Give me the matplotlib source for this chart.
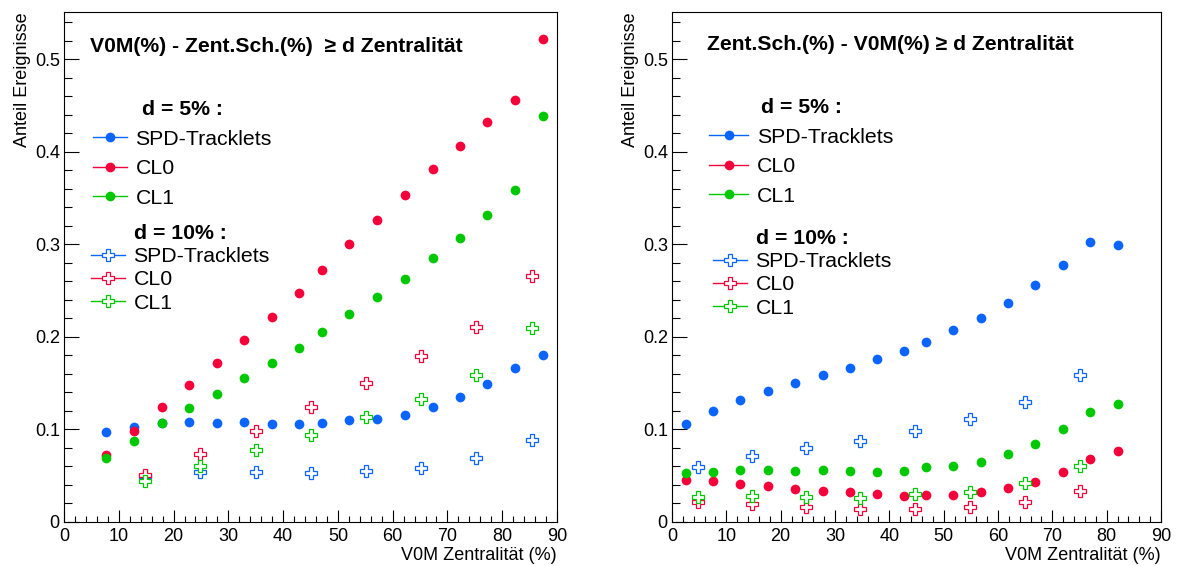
import matplotlib
matplotlib.use("Agg")
import matplotlib.pyplot as plt
from matplotlib.lines import Line2D
from matplotlib.ticker import MultipleLocator

plt.rcParams['font.family'] = ['Liberation Sans', 'DejaVu Sans']

blue = '#0a64ff'
red = '#f5003a'
green = '#00c800'

# left panel: V0M(%) - Zent.Sch.(%) >= d
x_left_5 = [7.7, 12.8, 17.8, 22.9, 27.9, 32.9, 38.0, 42.9, 47.1, 52.1, 57.1, 62.2, 67.3, 72.3, 77.3, 82.4, 87.4]
spd_left_5 = [0.097, 0.103, 0.107, 0.108, 0.107, 0.108, 0.106, 0.106, 0.107, 0.110, 0.111, 0.116, 0.124, 0.135, 0.149, 0.166, 0.180]
cl0_left_5 = [0.072, 0.098, 0.124, 0.148, 0.172, 0.197, 0.222, 0.247, 0.272, 0.300, 0.326, 0.353, 0.381, 0.406, 0.432, 0.456, 0.522]
cl1_left_5 = [0.069, 0.088, 0.107, 0.123, 0.138, 0.156, 0.172, 0.188, 0.205, 0.225, 0.243, 0.263, 0.285, 0.307, 0.332, 0.359, 0.439]

x_left_10 = [14.7, 24.9, 35.0, 45.0, 55.1, 65.2, 75.3, 85.4]
spd_left_10 = [0.050, 0.054, 0.054, 0.053, 0.055, 0.058, 0.069, 0.089]
cl0_left_10 = [0.051, 0.074, 0.098, 0.124, 0.150, 0.179, 0.211, 0.266]
cl1_left_10 = [0.044, 0.061, 0.078, 0.094, 0.113, 0.133, 0.159, 0.210]

# right panel: Zent.Sch.(%) - V0M(%) >= d
x_right_5 = [2.6, 7.55, 12.6, 17.6, 22.7, 27.7, 32.7, 37.7, 42.7, 46.8, 51.7, 56.8, 61.8, 66.9, 71.9, 76.9, 82.0]
spd_right_5 = [0.106, 0.120, 0.132, 0.142, 0.150, 0.159, 0.166, 0.176, 0.185, 0.195, 0.207, 0.220, 0.237, 0.256, 0.278, 0.302, 0.299]
cl0_right_5 = [0.045, 0.044, 0.041, 0.039, 0.036, 0.034, 0.032, 0.030, 0.028, 0.029, 0.029, 0.032, 0.037, 0.043, 0.054, 0.068, 0.077]
cl1_right_5 = [0.053, 0.054, 0.056, 0.056, 0.055, 0.056, 0.055, 0.054, 0.055, 0.059, 0.061, 0.065, 0.074, 0.084, 0.100, 0.119, 0.127]

x_right_10 = [4.7, 14.7, 24.7, 34.6, 44.7, 54.8, 64.9, 75.0]
spd_right_10 = [0.059, 0.071, 0.080, 0.088, 0.098, 0.111, 0.130, 0.159]
cl0_right_10 = [0.022, 0.019, 0.016, 0.014, 0.014, 0.016, 0.022, 0.034]
cl1_right_10 = [0.027, 0.028, 0.027, 0.026, 0.030, 0.032, 0.042, 0.060]

names = ['SPD-Tracklets', 'CL0', 'CL1']
colors = [blue, red, green]

W, H = 1177, 566
fig = plt.figure(figsize=(W / 100, H / 100), dpi=100)
ax1 = fig.add_axes([64 / W, 44 / H, 493 / W, 510 / H])
ax2 = fig.add_axes([672 / W, 44 / H, 489 / W, 510 / H])

circ = dict(marker='o', ms=7, linestyle='none', mew=0)
cross = dict(marker='P', ms=8.5, linestyle='none', mfc='white', mew=0.9)


def draw(ax, x5, ys5, x10, ys10):
    for y, c in zip(ys5, colors):
        ax.plot(x5, y, color=c, mfc=c, **circ)
    for y, c in zip(ys10, colors):
        ax.plot(x10, y, color=c, mec=c, **cross)
    ax.set_xlim(0, 90)
    ax.set_ylim(0, 0.551)
    ax.xaxis.set_major_locator(MultipleLocator(10))
    ax.xaxis.set_minor_locator(MultipleLocator(2))
    ax.yaxis.set_major_locator(MultipleLocator(0.1))
    ax.yaxis.set_minor_locator(MultipleLocator(0.02))
    ax.xaxis.set_major_formatter(plt.FuncFormatter(lambda v, p: '%g' % v))
    ax.yaxis.set_major_formatter(plt.FuncFormatter(lambda v, p: '%g' % round(v, 2)))
    ax.tick_params(which='both', direction='in', top=False, right=False, width=0.8, labelsize=13)
    ax.tick_params(axis='x', which='major', length=9, pad=4)
    ax.tick_params(axis='x', which='minor', length=4.5)
    ax.tick_params(axis='y', which='major', length=11, pad=3)
    ax.tick_params(axis='y', which='minor', length=5.5)
    for s in ax.spines.values():
        s.set_linewidth(0.8)
    ax.set_xlabel('V0M Zentralität (%)', fontsize=13, loc='right', labelpad=2)
    ax.set_ylabel('Anteil Ereignisse', fontsize=13, loc='top', labelpad=3)


def legends(ax, x5, y5, x10, y10, hl5, hl10):
    h5 = [Line2D([], [], color=c, lw=1, marker='o', ms=7, mew=0, mfc=c) for c in colors]
    h10 = [Line2D([], [], color=c, lw=1, marker='P', ms=8.5, mew=0.9, mfc='white', mec=c) for c in colors]
    leg1 = ax.legend(h5, names, title='d = 5% :', loc='upper left',
                     bbox_to_anchor=(x5 / W, 1 - y5 / H), bbox_transform=fig.transFigure,
                     frameon=False, fontsize=15.3, handlelength=hl5, handletextpad=0.4,
                     labelspacing=0.5, borderpad=0, borderaxespad=0,
                     title_fontproperties={'weight': 'bold', 'size': 15.3})
    ax.add_artist(leg1)
    ax.legend(h10, names, title='d = 10% :', loc='upper left',
              bbox_to_anchor=(x10 / W, 1 - y10 / H), bbox_transform=fig.transFigure,
              frameon=False, fontsize=15.3, handlelength=hl10, handletextpad=0.4,
              labelspacing=0.2, borderpad=0, borderaxespad=0,
              title_fontproperties={'weight': 'bold', 'size': 15.3})


draw(ax1, x_left_5, [spd_left_5, cl0_left_5, cl1_left_5], x_left_10, [spd_left_10, cl0_left_10, cl1_left_10])
draw(ax2, x_right_5, [spd_right_5, cl0_right_5, cl1_right_5], x_right_10, [spd_right_10, cl0_right_10, cl1_right_10])

legends(ax1, 93, 100, 91, 224, 1.6, 1.6)
legends(ax2, 709, 98, 713, 229, 1.85, 1.6)

fig.text(90 / W, 1 - 47 / H, 'V0M(%) - Zent.Sch.(%)  \u2265 d Zentralität', fontsize=15.2,
         fontweight='bold', va='center', ha='left')
fig.text(707 / W, 1 - 45 / H, 'Zent.Sch.(%) - V0M(%) \u2265 d Zentralität', fontsize=15.2,
         fontweight='bold', va='center', ha='left')

fig.savefig('out.png', dpi=100)
